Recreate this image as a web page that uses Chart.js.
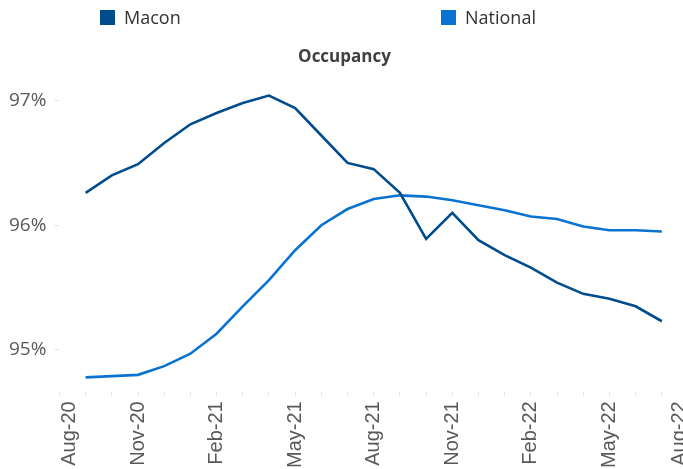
<!DOCTYPE html>
<html>
<head>
<meta charset="utf-8">
<script src="https://cdn.jsdelivr.net/npm/chart.js@4/dist/chart.umd.min.js"></script>
<style>
  html, body { margin: 0; padding: 0; background: #fff; overflow: hidden; width: 683px; height: 469px; }
  #wrap { position: relative; width: 690px; height: 469px; }
  .leg { position: absolute; top: 5px; font-family: "Open Sans", sans-serif; font-size: 18px; color: #333; line-height: 24px; white-space: nowrap; }
  .leg span.box { position: absolute; left: 0; top: 5px; width: 15px; height: 15px; }
  .leg span.txt { position: absolute; left: 24px; top: 0; }
</style>
</head>
<body>
<div id="wrap">
  <canvas id="c"></canvas>
  <div class="leg" style="left:100px"><span class="box" style="background:#004c8c"></span><span class="txt">Macon</span></div>
  <div class="leg" style="left:441px"><span class="box" style="background:#0a73d2"></span><span class="txt">National</span></div>
</div>
<script>
// Months on the axis (Aug-20 .. Aug-22)
const months = ["Aug-20","Sep-20","Oct-20","Nov-20","Dec-20","Jan-21","Feb-21","Mar-21","Apr-21","May-21","Jun-21","Jul-21","Aug-21","Sep-21","Oct-21","Nov-21","Dec-21","Jan-22","Feb-22","Mar-22","Apr-22","May-22","Jun-22","Jul-22","Aug-22"];
// Occupancy (%), data available Sep-20 .. Jul-22
const macon = [null, 96.26, 96.40, 96.49, 96.66, 96.81, 96.90, 96.98, 97.04, 96.94, 96.72, 96.50, 96.45, 96.26, 95.89, 96.10, 95.88, 95.76, 95.66, 95.54, 95.45, 95.41, 95.35, 95.23, null];
const national = [null, 94.78, 94.79, 94.80, 94.87, 94.97, 95.13, 95.35, 95.56, 95.80, 96.00, 96.13, 96.21, 96.24, 96.23, 96.20, 96.16, 96.12, 96.07, 96.05, 95.99, 95.96, 95.96, 95.95, null];
const yTicks = [95, 96, 97];
const labelEvery = 3;

// Nudge the two edge labels inwards (as the original chart does)
const edgeLabels = {
  id: 'edgeLabels',
  beforeDraw(chart) {
    const x = chart.scales.x;
    const items = x.getLabelItems(chart.chartArea);
    if (!items || items._nudged) return;
    if (items.length) {
      items[0].options.translation[0] += 10;
      items[items.length - 1].options.translation[0] -= 9;
    }
    items._nudged = true;
  }
};

new Chart(document.getElementById('c'), {
  type: 'line',
  data: {
    labels: months,
    datasets: [
      { label: 'Macon', data: macon, borderColor: '#004c8c', backgroundColor: '#004c8c', borderWidth: 2.6, pointRadius: 0, tension: 0 },
      { label: 'National', data: national, borderColor: '#0a73d2', backgroundColor: '#0a73d2', borderWidth: 2.6, pointRadius: 0, tension: 0 }
    ]
  },
  plugins: [edgeLabels],
  options: {
    responsive: true,
    maintainAspectRatio: false,
    animation: false,
    layout: { padding: { left: 1, right: 2, top: 0, bottom: -4 } },
    plugins: {
      legend: { display: false },
      tooltip: { enabled: false },
      title: {
        display: true,
        text: 'Occupancy',
        color: '#404040',
        font: { family: 'Open Sans', size: 17, weight: 'bold' },
        padding: { top: 47, bottom: 7 }
      }
    },
    scales: {
      x: {
        offset: false,
        border: { display: false },
        grid: { display: true, drawOnChartArea: false, drawTicks: true, tickLength: 4, color: '#e6e6e6' },
        afterFit: function(scale) { scale.paddingRight = 0; },
        ticks: {
          autoSkip: false,
          minRotation: 90,
          maxRotation: 90,
          padding: 5,
          color: '#595959',
          font: { family: 'Liberation Sans', size: 20 },
          callback: function(v, i) { return i % labelEvery === 0 ? months[i] : ''; }
        }
      },
      y: {
        min: 94.66,
        max: 97.21,
        border: { display: false },
        grid: { display: true, drawOnChartArea: false, drawTicks: true, tickLength: 5, color: '#e6e6e6' },
        afterBuildTicks: function(scale) { scale.ticks = yTicks.map(v => ({ value: v })); },
        ticks: {
          padding: 8,
          color: '#595959',
          font: { family: 'Open Sans', size: 19 },
          callback: function(v) { return v + '%'; }
        }
      }
    }
  }
});
</script>
</body>
</html>
